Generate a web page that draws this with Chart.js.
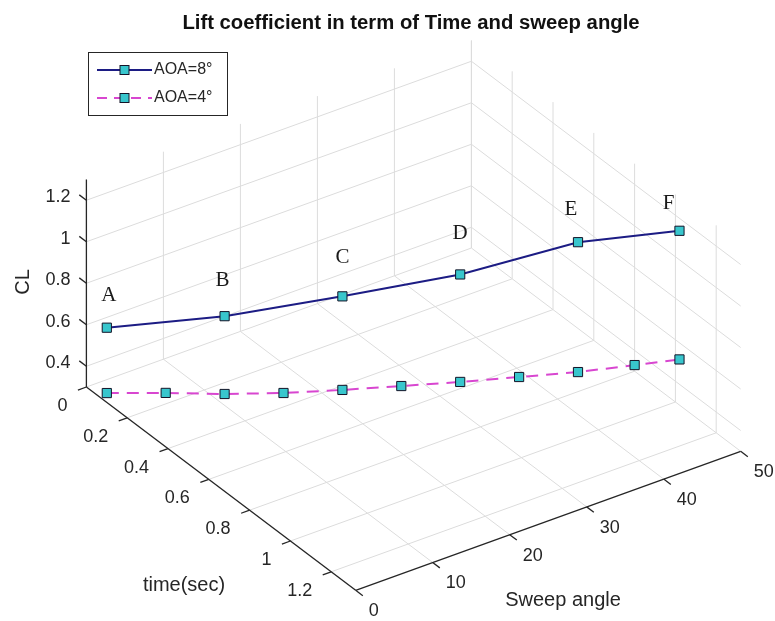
<!DOCTYPE html>
<html>
<head>
<meta charset="utf-8">
<title>Lift coefficient in term of Time and sweep angle</title>
<script src="https://cdn.jsdelivr.net/npm/chart.js@4.4.0/dist/chart.umd.min.js"></script>
<style>
    html, body { margin: 0; padding: 0; background: #fff; }
    #wrap { position: relative; width: 775px; height: 621px; }
</style>
</head>
<body>
<div id="wrap"><canvas id="liftChart"></canvas></div>
<script>
// AOA = 8 deg run, points A..F
const time8 = [0.1, 0.3, 0.5, 0.7, 0.9, 1.02];
const sweep8 = [0, 10, 20, 30, 40, 50];
const cl8 = [0.66, 0.73, 0.84, 0.96, 1.13, 1.14];
const pointNames = ['A', 'B', 'C', 'D', 'E', 'F'];

// AOA = 4 deg run
const time4 = [0.1, 0.2, 0.3, 0.4, 0.5, 0.6, 0.7, 0.8, 0.9, 0.97, 1.02];
const sweep4 = [0, 5, 10, 15, 20, 25, 30, 35, 40, 45.5, 50];
const cl4 = [0.345, 0.353, 0.355, 0.367, 0.389, 0.415, 0.442, 0.473, 0.504, 0.516, 0.52];

// tick labels
const timeTicks = [0, 0.2, 0.4, 0.6, 0.8, 1, 1.2];
const sweepTicks = [0, 10, 20, 30, 40, 50];
const clTicks = [0.4, 0.6, 0.8, 1, 1.2];

// limits of the 3-D box
const timeLim = [0, 1.32];
const sweepLim = [0, 50];
const clLim = [0.3, 1.3];

// Oblique view of the box, in canvas units
const view = {
    origin: { x: 86.4, y: 387 },   // time = 0, sweep = 0, CL = clLim[0]
    time: { x: 204, y: 154 },      // per second
    sweep: { x: 7.7, y: -2.78 },   // per degree
    cl: { x: 0, y: -207.5 }        // per unit CL
};

// pixel nudge of each point name from its marker
const nameNudge = [[2, -32], [-2, -36], [0, -39], [0, -41], [-7, -33], [-11, -27]];

function project(t, s, c) {
    return {
        x: view.origin.x + t * view.time.x + s * view.sweep.x + (c - clLim[0]) * view.cl.x,
        y: view.origin.y + t * view.time.y + s * view.sweep.y + (c - clLim[0]) * view.cl.y
    };
}

const FONT = '"Liberation Sans", Arial, Helvetica, sans-serif';
const AXIS_COLOR = '#262626';
const GRID_COLOR = '#dcdcdc';
const MARKER_FILL = '#38c6cd';
const MARKER_EDGE = '#141428';
const LINE8 = '#1c1c84';
const LINE4 = '#d846d0';

/**
 * Converts a projected point to canvas pixels through the chart scales
 */
function toPixel(chart, p) {
    return {
        x: chart.scales.x.getPixelForValue(p.x),
        y: chart.scales.y.getPixelForValue(p.y)
    };
}

function strokeLine(chart, a, b) {
    const ctx = chart.ctx;
    const pa = toPixel(chart, a);
    const pb = toPixel(chart, b);
    ctx.beginPath();
    ctx.moveTo(pa.x, pa.y);
    ctx.lineTo(pb.x, pb.y);
    ctx.stroke();
}

function drawText(chart, p, text, dx, dy, align) {
    const px = toPixel(chart, p);
    chart.ctx.textAlign = align;
    chart.ctx.fillText(text, px.x + dx, px.y + dy);
}

// Grid walls, axes, ticks and axis titles of the 3-D box
const boxPlugin = {
    id: 'box3d',
    beforeDatasetsDraw(chart) {
        const ctx = chart.ctx;
        const [t0, t1] = timeLim;
        const [s0, s1] = sweepLim;
        const [c0, c1] = clLim;

        ctx.save();
        ctx.strokeStyle = GRID_COLOR;
        ctx.lineWidth = 1;

        // floor
        timeTicks.forEach(t => strokeLine(chart, project(t, s0, c0), project(t, s1, c0)));
        sweepTicks.forEach(s => strokeLine(chart, project(t0, s, c0), project(t1, s, c0)));
        // back wall at time = 0
        sweepTicks.forEach(s => strokeLine(chart, project(t0, s, c0), project(t0, s, c1)));
        clTicks.forEach(c => strokeLine(chart, project(t0, s0, c), project(t0, s1, c)));
        // back wall at sweep = 50
        timeTicks.forEach(t => strokeLine(chart, project(t, s1, c0), project(t, s1, c1)));
        clTicks.forEach(c => strokeLine(chart, project(t0, s1, c), project(t1, s1, c)));

        // axis lines
        ctx.strokeStyle = AXIS_COLOR;
        ctx.lineWidth = 1.3;
        strokeLine(chart, project(t0, s0, c0), project(t0, s0, c1));
        strokeLine(chart, project(t0, s0, c0), project(t1, s0, c0));
        strokeLine(chart, project(t1, s0, c0), project(t1, s1, c0));

        // tick marks
        clTicks.forEach(c => strokeLine(chart, project(t0, s0, c), project(t0 - 0.035, s0, c)));
        timeTicks.forEach(t => strokeLine(chart, project(t, s0, c0), project(t, s0 - 1.1, c0)));
        sweepTicks.forEach(s => strokeLine(chart, project(t1, s, c0), project(t1 + 0.035, s, c0)));

        // tick labels
        ctx.fillStyle = AXIS_COLOR;
        ctx.font = '18px ' + FONT;
        ctx.textBaseline = 'middle';
        clTicks.forEach(c => drawText(chart, project(t0, s0, c), String(c), -16, -3, 'right'));
        timeTicks.forEach(t => drawText(chart, project(t, s0, c0), String(t), -19, 19, 'right'));
        sweepTicks.forEach(s => drawText(chart, project(t1, s, c0), String(s), 13, 21, 'left'));

        // axis titles
        ctx.font = '20px ' + FONT;
        ctx.textAlign = 'center';
        ctx.fillText('time(sec)', 184, 585);
        ctx.fillText('Sweep angle', 563, 600);
        ctx.save();
        ctx.translate(23, 282);
        ctx.rotate(-Math.PI / 2);
        ctx.fillText('CL', 0, 0);
        ctx.restore();

        ctx.restore();
    },
    afterDatasetsDraw(chart) {
        const ctx = chart.ctx;
        ctx.save();

        // point names above the AOA = 8 run
        ctx.fillStyle = '#1a1a1a';
        ctx.font = '21px "Liberation Serif", "Times New Roman", serif';
        ctx.textBaseline = 'middle';
        pointNames.forEach((name, i) => {
            const [dx, dy] = nameNudge[i];
            drawText(chart, project(time8[i], sweep8[i], cl8[i]), name, dx, dy, 'center');
        });

        // title
        ctx.fillStyle = '#111';
        ctx.font = 'bold 20.3px ' + FONT;
        ctx.textAlign = 'center';
        ctx.fillText('Lift coefficient in term of Time and sweep angle', 411, 23);

        // legend box
        ctx.fillStyle = '#fff';
        ctx.fillRect(88, 52, 139, 63);
        ctx.strokeStyle = AXIS_COLOR;
        ctx.lineWidth = 1;
        ctx.strokeRect(88.5, 52.5, 139, 63);

        const entries = [
            { label: 'AOA=8°', color: LINE8, dash: [], y: 70 },
            { label: 'AOA=4°', color: LINE4, dash: [10, 7], y: 98 }
        ];
        entries.forEach(e => {
            ctx.strokeStyle = e.color;
            ctx.lineWidth = 2;
            ctx.setLineDash(e.dash);
            ctx.beginPath();
            ctx.moveTo(97, e.y);
            ctx.lineTo(152, e.y);
            ctx.stroke();
            ctx.setLineDash([]);
            ctx.fillStyle = MARKER_FILL;
            ctx.fillRect(120, e.y - 4.5, 9, 9);
            ctx.strokeStyle = MARKER_EDGE;
            ctx.lineWidth = 1;
            ctx.strokeRect(120, e.y - 4.5, 9, 9);
            ctx.fillStyle = AXIS_COLOR;
            ctx.font = '16px ' + FONT;
            ctx.textAlign = 'left';
            ctx.fillText(e.label, 154, e.y);
        });

        ctx.restore();
    }
};

const ctx = document.getElementById('liftChart').getContext('2d');

new Chart(ctx, {
    type: 'scatter',
    data: {
        datasets: [
            {
                label: 'AOA=8°',
                data: time8.map((t, i) => project(t, sweep8[i], cl8[i])),
                showLine: true,
                borderColor: LINE8,
                borderWidth: 2,
                pointStyle: 'rect',
                pointRadius: 6.5,
                pointBackgroundColor: MARKER_FILL,
                pointBorderColor: MARKER_EDGE,
                pointBorderWidth: 1,
                clip: false
            },
            {
                label: 'AOA=4°',
                data: time4.map((t, i) => project(t, sweep4[i], cl4[i])),
                showLine: true,
                borderColor: LINE4,
                borderWidth: 2,
                borderDash: [12, 8],
                pointStyle: 'rect',
                pointRadius: 6.5,
                pointBackgroundColor: MARKER_FILL,
                pointBorderColor: MARKER_EDGE,
                pointBorderWidth: 1,
                clip: false
            }
        ]
    },
    options: {
        responsive: true,
        maintainAspectRatio: false,
        animation: false,
        layout: { padding: 0, autoPadding: false },
        scales: {
            x: { type: 'linear', display: false, min: 0, max: 775 },
            y: { type: 'linear', display: false, min: 0, max: 621, reverse: true }
        },
        plugins: {
            legend: { display: false },
            tooltip: { enabled: false }
        }
    },
    plugins: [boxPlugin]
});
</script>
</body>
</html>
